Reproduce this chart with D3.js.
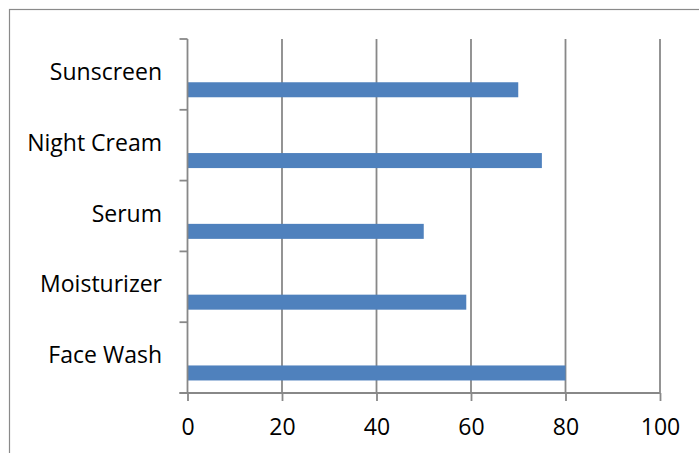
<!DOCTYPE html>
<html>
<head>
<meta charset="utf-8">
<script src="https://cdn.jsdelivr.net/npm/d3@7"></script>
<style>
  html, body { margin: 0; padding: 0; background: #fff; }
  svg { display: block; }
  text { font-family: "Open Sans", "Liberation Sans", sans-serif; fill: #000; }
</style>
</head>
<body>
<div id="chart"></div>
<script>
// Data (bottom to top as in the reference)
const categories = ["Face Wash", "Moisturizer", "Serum", "Night Cream", "Sunscreen"];
const values = [80, 59, 50, 75, 70];
const xTicks = [0, 20, 40, 60, 80, 100];

const W = 699, H = 453;
const plot = { left: 187.5, right: 660, top: 39, bottom: 393 };
const gridColor = "#888888";
const barColor = "#4f81bd";

const svg = d3.select("#chart").append("svg")
  .attr("width", W).attr("height", H);

// Outer chart border
svg.append("rect")
  .attr("x", 9.5).attr("y", 9.5)
  .attr("width", 720).attr("height", 480)
  .attr("fill", "none").attr("stroke", "#8a8a8a").attr("stroke-width", 1.2);

const x = d3.scaleLinear().domain([0, 100]).range([plot.left, plot.right]);
const y = d3.scaleBand()
  .domain(categories.slice().reverse())
  .range([plot.top, plot.bottom])
  .paddingInner(0).paddingOuter(0);

// Vertical gridlines
svg.append("g").selectAll("line")
  .data(xTicks.filter(d => d !== 0))
  .join("line")
  .attr("x1", d => x(d)).attr("x2", d => x(d))
  .attr("y1", plot.top).attr("y2", plot.bottom)
  .attr("stroke", gridColor).attr("stroke-width", 1.8);

// Bars
const bw = y.bandwidth();
svg.append("g").selectAll("rect")
  .data(categories.map((c, i) => ({ c, v: values[i] })))
  .join("rect")
  .attr("x", x(0))
  .attr("y", d => y(d.c) + bw * 0.611)
  .attr("width", d => x(d.v) - x(0))
  .attr("height", bw * 0.212)
  .attr("fill", barColor);

// Bottom axis
const xAxis = d3.axisBottom(x).tickValues(xTicks).tickSize(8).tickSizeOuter(0).tickPadding(12);
const gx = svg.append("g")
  .attr("transform", `translate(0,${plot.bottom})`)
  .call(xAxis);
gx.select(".domain").attr("stroke", gridColor).attr("stroke-width", 1.8)
  .attr("d", `M${x(0) - 8},0H${x(100)}`);
gx.selectAll(".tick line").attr("stroke", gridColor).attr("stroke-width", 1.8);
gx.selectAll(".tick text")
  .attr("font-size", 23)
  .attr("font-family", "'Open Sans', sans-serif")
  .attr("fill", "#000")
  .attr("dy", null)
  .attr("y", 42);

// Left axis (category boundaries as ticks)
const gy = svg.append("g");
gy.append("line")
  .attr("x1", x(0)).attr("x2", x(0))
  .attr("y1", plot.top).attr("y2", plot.bottom)
  .attr("stroke", gridColor).attr("stroke-width", 1.8);
const bounds = y.domain().map(c => y(c)).concat([plot.bottom]);
gy.selectAll("line.tk")
  .data(bounds)
  .join("line").attr("class", "tk")
  .attr("x1", x(0) - 8).attr("x2", x(0))
  .attr("y1", d => d).attr("y2", d => d)
  .attr("stroke", gridColor).attr("stroke-width", 1.8);

// Category labels
gy.selectAll("text")
  .data(categories)
  .join("text")
  .attr("x", 162)
  .attr("y", d => y(d) + bw / 2 + 5.5)
  .attr("text-anchor", "end")
  .attr("font-size", 23)
  .text(d => d);
</script>
</body>
</html>
